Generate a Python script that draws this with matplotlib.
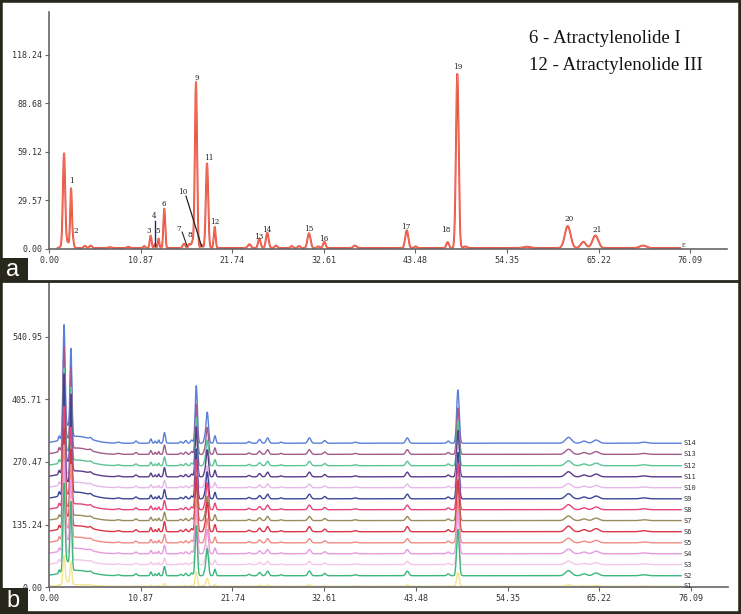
import numpy as np
import matplotlib
matplotlib.use("Agg")
import matplotlib.pyplot as plt
from matplotlib.patches import Rectangle
from matplotlib.lines import Line2D

# ---------------- data ----------------
x_ticks = [0.00, 10.87, 21.74, 32.61, 43.48, 54.35, 65.22, 76.09]
x_tick_labels = ["0.00", "10.87", "21.74", "32.61", "43.48", "54.35", "65.22", "76.09"]
top_y_ticks = [0.00, 29.57, 59.12, 88.68, 118.24]
top_y_labels = ["0.00", "29.57", "59.12", "88.68", "118.24"]
bot_y_ticks = [0.00, 135.24, 270.47, 405.71, 540.95]
bot_y_labels = ["0.00", "135.24", "270.47", "405.71", "540.95"]

# panel a: reference chromatogram peaks (retention time, height, width)
top_peak_t = [1.78, 2.0, 2.61, 2.81, 4.27, 4.95, 7.2, 9.4, 11.3, 12.06, 12.58, 13.0, 13.68,
              16.02, 16.65, 17.05, 17.44, 18.1, 18.75, 19.66, 23.77, 24.96, 25.9, 26.94,
              28.8, 29.67, 30.85, 31.96, 32.67, 36.3, 42.45, 43.5, 47.3, 48.45, 49.4,
              56.7, 61.55, 63.4, 64.83, 70.5]
top_peak_h = [54.0, 4.5, 34.0, 5.5, 1.3, 1.5, 0.5, 0.7, 1.2, 7.6, 2.5, 5.8, 24.0,
              2.6, 2.4, 4.0, 101.0, 2.0, 51.5, 12.8, 2.3, 5.7, 9.3, 1.5,
              1.2, 1.2, 9.0, 1.0, 3.8, 1.5, 10.8, 1.0, 3.6, 106.0, 1.0,
              0.8, 13.4, 3.8, 7.6, 1.5]
top_peak_w = [0.13, 0.35, 0.1, 0.12, 0.15, 0.15, 0.2, 0.2, 0.12, 0.11, 0.08, 0.09, 0.11,
              0.15, 0.12, 0.15, 0.13, 0.12, 0.14, 0.11, 0.18, 0.15, 0.16, 0.15,
              0.15, 0.15, 0.18, 0.15, 0.15, 0.2, 0.18, 0.15, 0.15, 0.16, 0.2,
              0.4, 0.34, 0.3, 0.34, 0.4]

peak_labels = ["1", "2", "3", "4", "5", "6", "7", "8", "9", "10", "11",
               "12", "13", "14", "15", "16", "17", "18", "19", "20", "21"]
peak_label_t = [2.61, 3.12, 11.83, 12.5, 12.93, 13.68, 15.43, 16.65, 17.56, 15.86, 19.02,
                19.7, 24.84, 25.87, 30.85, 32.63, 42.33, 47.11, 48.45, 61.75, 65.07]
peak_label_y = [41.4, 11.0, 10.8, 19.9, 10.8, 27.4, 12.4, 8.3, 104.0, 34.7, 55.6,
                16.5, 7.3, 11.8, 12.4, 6.3, 13.6, 11.6, 111.1, 18.3, 11.6]

# panel b: fingerprint template peaks (retention time, height, width)
bot_peak_t = [1.2, 1.78, 2.1, 2.6, 3.3, 4.9, 8.2, 10.3, 12.07, 12.58, 13.0, 13.68,
              15.6, 16.2, 16.9, 17.45, 18.45, 18.75, 19.66, 23.7, 24.95, 25.9, 27.5,
              30.85, 32.67, 36.3, 42.45, 47.3, 48.45, 61.55, 63.4, 64.83, 70.5]
bot_peak_h = [8, 200, 25, 160, 13, 3, 2, 4, 8, 4, 6, 20,
              3, 5, 6, 108, 8, 58, 14, 3, 7, 10, 2,
              10, 5, 2, 10, 4, 100, 11, 4, 6, 2]
bot_peak_w = [0.08, 0.12, 0.3, 0.11, 1.6, 0.15, 0.2, 0.15, 0.1, 0.08, 0.08, 0.11,
              0.12, 0.12, 0.12, 0.13, 0.12, 0.14, 0.11, 0.15, 0.16, 0.16, 0.15,
              0.18, 0.16, 0.2, 0.18, 0.15, 0.15, 0.36, 0.3, 0.34, 0.4]
bot_peak_group = [0, 0, 0, 0, 0, 1, 1, 1, 1, 1, 1, 1,
                  1, 1, 1, 1, 1, 1, 1, 1, 1, 1, 1,
                  1, 1, 1, 1, 1, 1, 1, 1, 1, 1]   # 0 = early peaks, 1 = others

sample_names = ["S1", "S2", "S3", "S4", "S5", "S6", "S7", "S8", "S9", "S10",
                "S11", "S12", "S13", "S14"]
sample_offsets = [2, 25, 49, 72.5, 96, 120, 144, 167.5, 191, 215, 238.5, 262.5, 287, 311]
early_scale = [0.3, 0.9, 0.8, 0.9, 0.95, 1.0, 0.9, 1.0, 1.1, 0.9, 1.0, 0.95, 1.05, 1.15]
main_scale = [0.3, 1.0, 0.7, 0.9, 0.9, 1.1, 0.9, 1.0, 1.0, 0.8, 1.0, 0.95, 1.0, 1.15]
sample_colors = ["#f2e68a", "#3bb77e", "#f5c6e6", "#e79be0", "#f08c84", "#d9364a",
                 "#9a8c5e", "#e8457a", "#3c4696", "#e6b8ea", "#5b3b8c", "#5cc496",
                 "#a25c8c", "#5a7fd8"]


def trace(t, pt, ph, pw, scales=None):
    y = np.zeros_like(t)
    for i, (c, h, w) in enumerate(zip(pt, ph, pw)):
        s = 1.0 if scales is None else scales[i]
        y += s * h * np.exp(-0.5 * ((t - c) / w) ** 2)
    return y


# ---------------- figure ----------------
W, H = 741, 614
fig = plt.figure(figsize=(W / 100, H / 100), dpi=100)
fig.patch.set_facecolor("white")

mono = "DejaVu Sans Mono"
axis_col = "#666666"
XMAX = 80.45


def style_axes(ax, yt, yl, ymax):
    ax.set_xlim(0, XMAX)
    ax.set_ylim(0, ymax)
    for s in ["top", "right"]:
        ax.spines[s].set_visible(False)
    for s in ["left", "bottom"]:
        ax.spines[s].set_color(axis_col)
        ax.spines[s].set_linewidth(1.2)
    ax.set_xticks(x_ticks)
    ax.set_xticklabels(x_tick_labels, fontsize=6, family=mono, color="#333333")
    ax.set_yticks(yt)
    ax.set_yticklabels(yl, fontsize=6, family=mono, color="#333333")
    ax.tick_params(axis="both", length=3, width=0.8, color=axis_col, pad=2)
    ax.set_facecolor("none")


# panel a
axa = fig.add_axes([49 / W, (H - 249) / H, 678 / W, 237 / H])
style_axes(axa, top_y_ticks, top_y_labels, 144.4)
ta = np.linspace(1.05, 74.9, 8000)
ya = trace(ta, top_peak_t, top_peak_h, top_peak_w) + 0.6
axa.plot(ta, ya, color="#e8473d", lw=1.4, solid_joinstyle="round")
axa.plot(ta, ya, color="#f59a6a", lw=0.4, alpha=0.8)
axa.text(75.2, 0.6, "E", fontsize=4.5, family=mono, ha="center", va="bottom", color="#444444")

for lab, lt, ly in zip(peak_labels, peak_label_t, peak_label_y):
    axa.text(lt, ly, lab, fontsize=5.2, family="DejaVu Serif", ha="center", va="center",
             color="#222222")
# leader lines for crowded labels
axa.plot([12.58, 12.58], [17.0, 1.8], color="#1b2a80", lw=1.0)
axa.plot([16.26, 18.12], [32.2, 1.4], color="#222222", lw=0.9)
axa.plot([15.8, 16.38], [10.3, 1.8], color="#222222", lw=0.8)

axa.text(56.96, 128.3, "6 - Atractylenolide I", fontsize=13.5, family="Liberation Serif",
         ha="left", va="center", color="#111111")
axa.text(56.96, 112.1, "12 - Atractylenolide III", fontsize=13.5, family="Liberation Serif",
         ha="left", va="center", color="#111111")

# panel b
axb = fig.add_axes([49 / W, (H - 587.3) / H, 679 / W, 305.3 / H])
style_axes(axb, bot_y_ticks, bot_y_labels, 659)
tb = np.linspace(0.0, 74.9, 8000)
for i in range(len(sample_names) - 1, -1, -1):
    sc = [early_scale[i] if g == 0 else main_scale[i] for g in bot_peak_group]
    yb = trace(tb, bot_peak_t, bot_peak_h, bot_peak_w, sc) + sample_offsets[i]
    axb.plot(tb, yb, color=sample_colors[i], lw=1.0)
    axb.text(75.2, sample_offsets[i], sample_names[i], fontsize=5, family=mono,
             ha="left", va="center", color="#333333")

# frame, separator and panel letters
dark = "#27271b"
fig.add_artist(Rectangle((0, 0), 1, 1, transform=fig.transFigure, fill=False,
                         ec=dark, lw=4, zorder=10))
fig.add_artist(Line2D([0, 1], [(H - 281) / H] * 2, transform=fig.transFigure,
                      color=dark, lw=2, zorder=10))
fig.add_artist(Rectangle((0, (H - 282) / H), 28 / W, 24 / H, transform=fig.transFigure,
                         fc=dark, ec="none", zorder=11))
fig.add_artist(Rectangle((0, 0), 28 / W, 26 / H, transform=fig.transFigure,
                         fc=dark, ec="none", zorder=11))
fig.text(13 / W, (H - 270) / H, "a", fontsize=17, family="Liberation Sans", color="white",
         ha="center", va="center", zorder=12)
fig.text(13 / W, (H - 601) / H, "b", fontsize=17, family="Liberation Sans", color="white",
         ha="center", va="center", zorder=12)

fig.savefig("out.png", dpi=100)
